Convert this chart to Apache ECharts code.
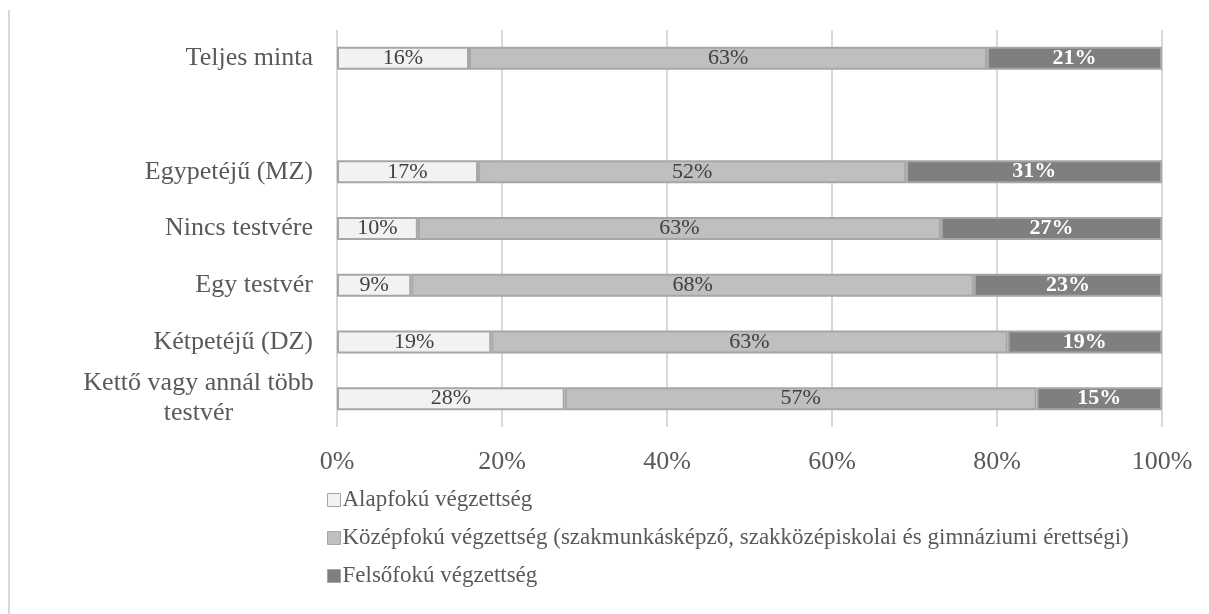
<!DOCTYPE html>
<html>
<head>
<meta charset="utf-8">
<script src="https://cdn.jsdelivr.net/npm/echarts@6/dist/echarts.min.js"></script>
<style>html,body{margin:0;padding:0;background:#fff;}#c{width:1209px;height:614px;}</style>
</head>
<body>
<div id="c"></div>
<script>
const categories = ['Teljes minta', '', 'Egypetéjű (MZ)', 'Nincs testvére', 'Egy testvér', 'Kétpetéjű (DZ)', 'Kettő vagy annál több\ntestvér'];
const seriesNames = ['Alapfokú végzettség', 'Középfokú végzettség (szakmunkásképző, szakközépiskolai és gimnáziumi érettségi)', 'Felsőfokú végzettség'];
const alapfoku = [16.0, null, 17.1, 9.8, 9.0, 18.7, 27.6];
const kozepfoku = [62.8, null, 51.9, 63.4, 68.2, 62.6, 57.2];
const felsofoku = [21.2, null, 31.0, 26.8, 22.8, 18.7, 15.2];
const xTicks = [0, 20, 40, 60, 80, 100];

const FONT = "'Liberation Serif', 'Times New Roman', serif";
const TXT = '#595959';
const colors = ['#f2f2f2', '#bfbfbf', '#7f7f7f'];
const labelColors = ['#404040', '#404040', '#ffffff'];
const values = [alapfoku, kozepfoku, felsofoku];

const chart = echarts.init(document.getElementById('c'), null, {renderer: 'canvas'});
const series = values.map((arr, i) => ({
  name: seriesNames[i],
  type: 'bar',
  stack: 'total',
  barWidth: 23,
  data: arr,
  itemStyle: {color: colors[i], borderColor: '#a6a6a6', borderWidth: 2},
  label: {
    show: true,
    position: 'inside',
    formatter: p => Math.round(p.value) + '%',
    fontFamily: FONT,
    fontSize: 22,
    fontWeight: i === 2 ? 'bold' : 'normal',
    color: labelColors[i]
  }
}));

chart.setOption({
  animation: false,
  backgroundColor: '#ffffff',
  textStyle: {fontFamily: FONT},
  grid: {left: 337, right: 47, top: 30, bottom: 187, containLabel: false},
  xAxis: {
    type: 'value',
    min: 0, max: 100, interval: 20,
    axisLine: {show: false},
    axisTick: {show: false},
    splitLine: {show: true, lineStyle: {color: '#d9d9d9', width: 2}},
    axisLabel: {
      margin: 22,
      fontFamily: FONT, fontSize: 26, color: TXT,
      formatter: v => (xTicks.indexOf(v) >= 0 ? v + '%' : '')
    }
  },
  yAxis: {
    type: 'category',
    inverse: true,
    data: categories,
    axisLine: {show: false},
    axisTick: {show: false},
    axisLabel: {
      margin: 24,
      fontFamily: FONT, fontSize: 26, color: TXT,
      formatter: v => v.indexOf('\n') >= 0 ? v.split('\n').map(s => '{c|' + s + '}').join('\n') : v,
      rich: {c: {width: 229, align: 'center', lineHeight: 30, fontFamily: FONT, fontSize: 26, color: TXT}}
    }
  },
  legend: {
    orient: 'vertical',
    left: 322,
    top: 483,
    itemWidth: 13,
    itemHeight: 13,
    itemGap: 14,
    icon: 'rect',
    itemStyle: {borderColor: '#a6a6a6', borderWidth: 1},
    textStyle: {fontFamily: FONT, fontSize: 23, color: TXT, lineHeight: 24, padding: [0, 0, 0, -3]},
    data: seriesNames
  },
  graphic: [{
    type: 'rect',
    shape: {x: 8, y: 10, width: 2, height: 604},
    style: {fill: '#d9d9d9'},
    silent: true
  }],
  series: series
});
</script>
</body>
</html>
